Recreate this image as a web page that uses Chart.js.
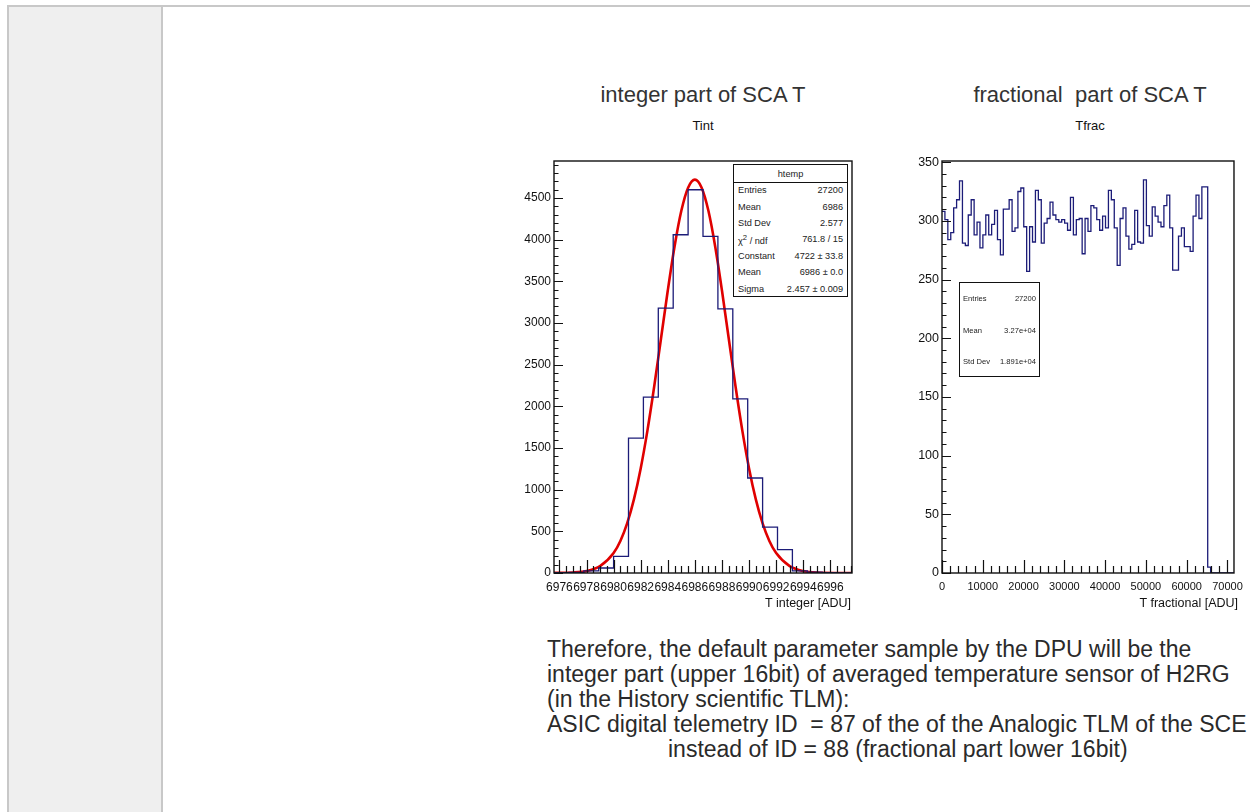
<!DOCTYPE html>
<html lang="en">
<head>
  <meta charset="UTF-8">
  <title>Tint / Tfrac</title>
  <script src="https://cdn.jsdelivr.net/npm/chart.js"></script>
  <style>
    body { margin: 0; width: 1250px; height: 812px; background: #fff; position: relative; overflow: hidden;
           font-family: "Liberation Sans", Arial, sans-serif; color: #222; }
    #topLine { position: absolute; left: 7px; top: 5px; width: 1243px; height: 2px; background: #c8c8c8; }
    #sidebar { position: absolute; left: 7px; top: 7px; width: 152px; height: 805px; background: #efefef;
               border-left: 2px solid #c8c8c8; border-right: 2px solid #c8c8c8; }
    .pane { position: absolute; }
    .title { position: absolute; font-size: 22px; color: #333; transform: translate(-50%, -50%); white-space: pre; }
    .sub { position: absolute; font-size: 13px; color: #111; transform: translate(-50%, -50%); }
    .axt { position: absolute; font-size: 12.5px; color: #111; transform: translate(-100%, -50%); white-space: nowrap; }
    .stats { position: absolute; border: 1.3px solid #111; background: #fff; box-sizing: border-box; color: #222; }
    .stats .row { position: absolute; left: 0; right: 0; display: flex; justify-content: space-between; align-items: center; }
    #para { position: absolute; left: 547px; top: 637px; font-size: 23px; line-height: 25px; color: #2a2a2a; white-space: pre; }
    #para .indent { padding-left: 121px; }
  </style>
</head>
<body>
  <div id="topLine"></div>
  <div id="sidebar"></div>

  <div class="title" style="left:703px; top:95px;">integer part of SCA T</div>
  <div class="sub" style="left:703px; top:125px;">Tint</div>
  <div class="title" style="left:1090px; top:95px;">fractional  part of SCA T</div>
  <div class="sub" style="left:1090px; top:125px;">Tfrac</div>

  <div class="pane" style="left:500px; top:150px;"><canvas id="cInt" width="360" height="470"></canvas></div>
  <div class="pane" style="left:900px; top:150px;"><canvas id="cFrac" width="350" height="470"></canvas></div>

  <div class="axt" style="left:851px; top:603px;">T integer [ADU]</div>
  <div class="axt" style="left:1238px; top:603px;">T fractional [ADU]</div>

  <div class="stats" id="statsInt" style="left:733px; top:164px; width:115px; height:133px; font-size:9.2px;"></div>
  <div class="stats" id="statsFrac" style="left:959px; top:282px; width:81px; height:95px; font-size:7.6px;"></div>

  <div id="para">Therefore, the default parameter sample by the DPU will be the
integer part (upper 16bit) of averaged temperature sensor of H2RG
(in the History scientific TLM):
ASIC digital telemetry ID  = 87 of the of the Analogic TLM of the SCE
<span class="indent">instead of ID = 88 (fractional part lower 16bit)</span></div>

  <script>
    // Tint histogram: 20 bins of 1.1 ADU from 6975.6
    const intLow = 6975.6;
    const intBinWidth = 1.1;
    const intCounts = [3, 8, 25, 60, 200, 1620, 2110, 3180, 4060, 4600,
                       4040, 3170, 2090, 1140, 550, 280, 25, 10, 5, 2];
    // gaussian fit curve
    const fitX = [6975.6, 6977, 6978, 6979, 6980, 6980.5, 6981, 6981.5, 6982, 6982.5, 6983, 6983.5,
                  6984, 6984.5, 6985, 6985.5, 6986, 6986.5, 6987, 6987.5, 6988, 6988.5, 6989,
                  6989.5, 6990, 6990.5, 6991, 6991.5, 6992, 6993, 6994, 6995, 6997.6];
    const fitY = [1, 6, 24, 82, 239, 385, 595, 883, 1255, 1712, 2241, 2814,
                  3390, 3919, 4347, 4625, 4722, 4625, 4347, 3919, 3390, 2814, 2241,
                  1712, 1255, 883, 595, 385, 239, 82, 24, 6, 0];
    const intXTicks = [6976, 6978, 6980, 6982, 6984, 6986, 6988, 6990, 6992, 6994, 6996];
    const intYTicks = [0, 500, 1000, 1500, 2000, 2500, 3000, 3500, 4000, 4500];

    // Tfrac histogram: 100 bins of 716 ADU from 0
    const fracLow = 0;
    const fracBinWidth = 716;
    const fracCounts = [308, 301, 284, 290, 311, 318, 334, 281, 279, 305,
                        318, 288, 299, 277, 288, 305, 288, 297, 309, 284,
                        271, 310, 310, 318, 291, 294, 325, 328, 295, 257,
                        295, 282, 326, 318, 281, 298, 302, 316, 305, 301,
                        299, 301, 298, 292, 320, 288, 301, 302, 272, 302,
                        291, 313, 311, 301, 292, 304, 294, 326, 318, 294,
                        262, 302, 311, 287, 276, 280, 309, 282, 281, 335,
                        296, 287, 312, 304, 299, 295, 313, 322, 294, 258,
                        258, 287, 294, 278, 278, 274, 304, 322, 302, 329,
                        329, 5, 0, 0, 0, 0, 0, 0, 0, 0];
    const fracXTicks = [0, 10000, 20000, 30000, 40000, 50000, 60000, 70000];
    const fracYTicks = [0, 50, 100, 150, 200, 250, 300, 350];

    const statsInt = [['Entries', '27200'], ['Mean', '6986'], ['Std Dev', '2.577'],
                      ['χ<sup>2</sup> / ndf', '761.8 / 15'], ['Constant', '4722 ± 33.8'],
                      ['Mean', '6986 ± 0.0'], ['Sigma', '2.457 ± 0.009']];
    const statsFrac = [['Entries', '27200'], ['Mean', '3.27e+04'], ['Std Dev', '1.891e+04']];

    function fillStats(id, title, rows, top, rowH, pad) {
      const box = document.getElementById(id);
      let html = '';
      if (title) {
        html += `<div class="row" style="top:0;height:${top}px;justify-content:center;border-bottom:1.2px solid #111;">${title}</div>`;
      }
      rows.forEach((r, i) => {
        html += `<div class="row" style="top:${top + i * rowH}px;height:${rowH}px;padding:0 ${pad}px;">` +
                `<span>${r[0]}</span><span>${r[1]}</span></div>`;
      });
      box.innerHTML = html;
    }
    fillStats('statsInt', 'htemp', statsInt, 17, 16.4, 4);
    fillStats('statsFrac', null, statsFrac, 0, 31.6, 3);

    function histPoints(lo, w, counts) {
      const pts = counts.map((c, i) => ({ x: lo + i * w, y: c }));
      pts.push({ x: lo + counts.length * w, y: counts[counts.length - 1] });
      return pts;
    }

    // ROOT-like frame with inward ticks on left and bottom
    const rootFrame = {
      id: 'rootFrame',
      afterDatasetsDraw(chart, args, o) {
        const { ctx, chartArea: a, scales: { x, y } } = chart;
        ctx.save();
        ctx.strokeStyle = '#111';
        ctx.lineWidth = 1.2;
        ctx.beginPath();
        for (let v = Math.ceil(y.min / o.yMinor) * o.yMinor; v <= y.max; v += o.yMinor) {
          const py = Math.round(y.getPixelForValue(v)) + 0.5;
          const major = Math.abs(v / o.yMajor - Math.round(v / o.yMajor)) < 1e-6;
          ctx.moveTo(a.left, py);
          ctx.lineTo(a.left + (major ? 9 : 4.5), py);
        }
        for (let v = Math.ceil(x.min / o.xMinor) * o.xMinor; v <= x.max; v += o.xMinor) {
          const px = Math.round(x.getPixelForValue(v)) + 0.5;
          const major = Math.abs((v - o.xBase) / o.xMajor - Math.round((v - o.xBase) / o.xMajor)) < 1e-6;
          ctx.moveTo(px, a.bottom);
          ctx.lineTo(px, a.bottom - (major ? 13 : 7));
        }
        ctx.stroke();
        ctx.lineWidth = 1.4;
        ctx.strokeRect(a.left, a.top, a.right - a.left, a.bottom - a.top);
        ctx.restore();
      }
    };

    function makeChart(el, cfg) {
      const font = { family: '"Liberation Sans", Arial, sans-serif' };
      return new Chart(document.getElementById(el), {
        type: 'line',
        data: { datasets: cfg.datasets },
        options: {
          responsive: false,
          animation: false,
          events: [],
          layout: { padding: cfg.pad },
          plugins: { legend: { display: false }, tooltip: { enabled: false }, rootFrame: cfg.ticks },
          scales: {
            x: {
              type: 'linear', min: cfg.xMin, max: cfg.xMax,
              grid: { display: false, drawTicks: false }, border: { display: false },
              afterFit: s => { s.height = 47; },
              afterBuildTicks: s => { s.ticks = cfg.xTicks.map(v => ({ value: v })); },
              ticks: { autoSkip: false, maxRotation: 0, minRotation: 0, padding: 7, color: '#111',
                       font: { ...font, size: cfg.xFont }, callback: v => String(v) }
            },
            y: {
              type: 'linear', min: 0, max: cfg.yMax,
              grid: { display: false, drawTicks: false }, border: { display: false },
              afterFit: s => { s.width = cfg.yWidth; },
              afterBuildTicks: s => { s.ticks = cfg.yTicks.map(v => ({ value: v })); },
              ticks: { padding: 3, color: '#111', font: { ...font, size: cfg.yFont }, callback: v => String(v) }
            }
          }
        },
        plugins: [rootFrame]
      });
    }

    makeChart('cInt', {
      xMin: intLow, xMax: intLow + intCounts.length * intBinWidth, yMax: 4945,
      xTicks: intXTicks, yTicks: intYTicks, xFont: 12, yFont: 12, yWidth: 50,
      pad: { left: 4, top: 11, right: 8, bottom: 0 },
      ticks: { yMajor: 500, yMinor: 100, xMajor: 2, xMinor: 0.5, xBase: 6976 },
      datasets: [
        { data: histPoints(intLow, intBinWidth, intCounts), stepped: true, borderColor: '#1c1c78',
          borderWidth: 1.3, pointRadius: 0, fill: false },
        { data: fitX.map((v, i) => ({ x: v, y: fitY[i] })), borderColor: '#e00000', borderWidth: 2.6,
          pointRadius: 0, fill: false, cubicInterpolationMode: 'monotone' }
      ]
    });

    makeChart('cFrac', {
      xMin: fracLow, xMax: fracLow + fracCounts.length * fracBinWidth, yMax: 351,
      xTicks: fracXTicks, yTicks: fracYTicks, xFont: 11, yFont: 12.5, yWidth: 38,
      pad: { left: 4, top: 11, right: 11, bottom: 0 },
      ticks: { yMajor: 50, yMinor: 10, xMajor: 10000, xMinor: 2000, xBase: 0 },
      datasets: [
        { data: histPoints(fracLow, fracBinWidth, fracCounts), stepped: true, borderColor: '#1c1c78',
          borderWidth: 1.3, pointRadius: 0, fill: false }
      ]
    });
  </script>
</body>
</html>
